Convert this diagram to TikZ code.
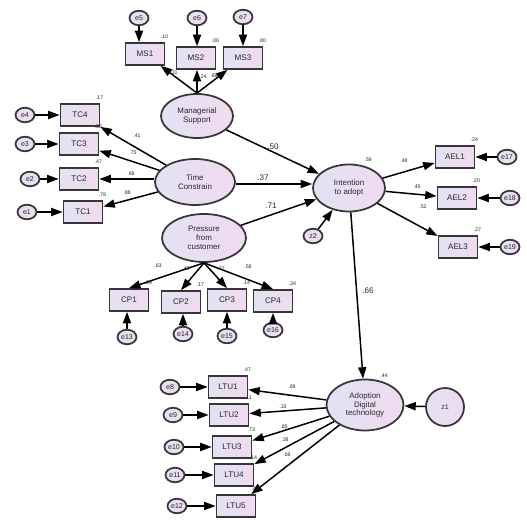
\documentclass[tikz,border=0pt]{standalone}
\usepackage{fontspec}
\setmainfont{Liberation Sans}
\usetikzlibrary{shapes.geometric,arrows.meta}
\definecolor{lavL}{RGB}{226,226,243}
\definecolor{lavR}{RGB}{241,218,240}
\definecolor{rim}{RGB}{55,55,55}
\definecolor{ink}{RGB}{40,40,40}
\begin{document}
\begin{tikzpicture}[x=0.02cm,y=-0.02cm,text=ink]
    \tikzset{obs/.style={rectangle, draw=rim, line width=1pt, left color=lavL, right color=lavR,
                         minimum width=0.78cm, minimum height=0.44cm, inner sep=0pt, font=\fontsize{4.6}{5.5}\selectfont},
             err/.style={ellipse, draw=rim, line width=1pt, left color=lavL, right color=lavR,
                         minimum width=0.38cm, minimum height=0.29cm, inner sep=0pt, font=\fontsize{4}{5}\selectfont},
             lat/.style={ellipse, draw=rim, line width=1pt, left color=lavL, right color=lavR,
                         inner sep=0pt, align=center, font=\fontsize{4.5}{5}\selectfont},
             arr/.style={-{Triangle[length=6.5pt,width=4.6pt]}, line width=0.85pt},
             rsq/.style={anchor=south, inner sep=0.5pt, font=\fontsize{3}{4}\selectfont},
             ld/.style={inner sep=0pt, font=\fontsize{3}{4}\selectfont},
             coef/.style={inner sep=0pt, font=\fontsize{4.6}{5.5}\selectfont}}
    \useasboundingbox (0,0) rectangle (527,520);

    % ---- latent variables ----
    \node[lat, minimum width=1.44cm, minimum height=0.88cm] (mansup) at (197,116) {Managerial\\Support};
    \node[lat, minimum width=1.6cm, minimum height=0.92cm] (timecon) at (195,182) {Time\\Constrain};
    \node[lat, minimum width=1.68cm, minimum height=0.96cm] (press) at (204,238) {Pressure\\from\\customer};
    \node[lat, minimum width=1.44cm, minimum height=0.94cm] (intent) at (349,188) {Intention\\to adopt};
    \node[lat, minimum width=1.54cm, minimum height=1.02cm] (adopt) at (365,405) {Adoption\\Digital\\technology};
    \node[err] (z2) at (313,236) {z2};
    \node[err, circle, minimum size=0.76cm] (z1) at (445,407) {z1};

    % ---- Managerial support ----
    \node[obs] (ms1) at (145,54) {MS1};
    \node[obs] (ms2) at (196,58) {MS2};
    \node[obs] (ms3) at (243,58) {MS3};
    \node[err] (e5) at (139,18) {e5};
    \node[err] (e6) at (197,18) {e6};
    \node[err] (e7) at (243,17) {e7};
    \draw[arr] (e5) -- (e5 |- ms1.north);
    \draw[arr] (e6) -- (e6 |- ms2.north);
    \draw[arr] (e7) -- (e7 |- ms3.north);
    \draw[arr] (mansup.north) -- (ms1);
    \draw[arr] (mansup.north) -- (mansup.north |- ms2.south);
    \draw[arr] (mansup.north) -- (ms3);
    \node[rsq] at ([shift={(-1,-2)}]ms1.north east) {.10};
    \node[rsq] at ([shift={(-1,-2)}]ms2.north east) {.06};
    \node[rsq] at ([shift={(-1,-2)}]ms3.north east) {.80};
    \node[ld] at (174,73) {.31};
    \node[ld] at (203,77) {.24};
    \node[ld] at (214,76) {.89};

    % ---- Time constrain ----
    \node[obs] (tc4) at (80,115) {TC4};
    \node[obs] (tc3) at (79,144) {TC3};
    \node[obs] (tc2) at (79,179) {TC2};
    \node[obs] (tc1) at (83,212) {TC1};
    \node[err] (e4) at (25,115) {e4};
    \node[err] (e3) at (25,144) {e3};
    \node[err] (e2) at (30,179) {e2};
    \node[err] (e1) at (27,212) {e1};
    \foreach \i/\j in {4/4, 3/3, 2/2, 1/1}
        \draw[arr] (e\i) -- (tc\j);
    \draw[arr] (timecon) -- (tc4);
    \draw[arr] (timecon) -- (tc3);
    \draw[arr] (timecon.west |- tc2) -- (tc2);
    \draw[arr] (timecon) -- (tc1);
    \node[rsq] at ([shift={(-1,-2)}]tc4.north east) {.17};
    \node[rsq] at ([shift={(-1,-2)}]tc3.north east) {.56};
    \node[rsq] at ([shift={(-1,-2)}]tc2.north east) {.47};
    \node[rsq] at ([shift={(-1,-2)}]tc1.north east) {.78};
    \node[ld] at (137,136) {.41};
    \node[ld] at (133,153) {.75};
    \node[ld] at (131,174) {.69};
    \node[ld] at (127,193) {.88};

    % ---- Pressure from customer ----
    \node[obs] (cp1) at (129,300) {CP1};
    \node[obs] (cp2) at (181,302) {CP2};
    \node[obs] (cp3) at (227,300) {CP3};
    \node[obs] (cp4) at (273,301) {CP4};
    \node[err] (e13) at (127,337) {e13};
    \node[err] (e14) at (183,334) {e14};
    \node[err] (e15) at (227,336) {e15};
    \node[err] (e16) at (273,330) {e16};
    \draw[arr] (e13) -- (e13 |- cp1.south);
    \draw[arr] (e14) -- (e14 |- cp2.south);
    \draw[arr] (e15) -- (e15 |- cp3.south);
    \draw[arr] (e16) -- (e16 |- cp4.south);
    \draw[arr] (press.south) -- (cp1.north);
    \draw[arr] (press.south) -- (cp2.north);
    \draw[arr] (press.south) -- (cp3.north);
    \draw[arr] (press.south) -- (cp4.north);
    \node[rsq] at ([shift={(-1,-2)}]cp1.north east) {.39};
    \node[rsq] at ([shift={(-1,-2)}]cp2.north east) {.17};
    \node[rsq] at ([shift={(-1,-2)}]cp3.north east) {.14};
    \node[rsq] at ([shift={(-1,-2)}]cp4.north east) {.34};
    \node[ld] at (158,266) {.63};
    \node[ld] at (186,269) {.42};
    \node[ld] at (221,269) {.37};
    \node[ld] at (248,267) {.58};

    % ---- Intention to adopt ----
    \node[obs] (ael1) at (455,157) {AEL1};
    \node[obs] (ael2) at (457,198) {AEL2};
    \node[obs] (ael3) at (458,247) {AEL3};
    \node[err] (e17) at (507,157) {e17};
    \node[err] (e18) at (510,198) {e18};
    \node[err] (e19) at (510,247) {e19};
    \draw[arr] (e17) -- (ael1);
    \draw[arr] (e18) -- (ael2);
    \draw[arr] (e19) -- (ael3);
    \draw[arr] (intent) -- (ael1);
    \draw[arr] (intent) -- (ael2);
    \draw[arr] (intent) -- (ael3);
    \node[rsq] at ([shift={(-1,-2)}]ael1.north east) {.24};
    \node[rsq] at ([shift={(-1,-2)}]ael2.north east) {.20};
    \node[rsq] at ([shift={(-1,-2)}]ael3.north east) {.27};
    \node[ld] at (404,161) {.48};
    \node[ld] at (417,187) {.45};
    \node[ld] at (423,207) {.52};

    % ---- structural paths ----
    \draw[arr] (mansup) -- (intent);
    \draw[arr] (timecon.east |- 0,184) -- (intent.west |- 0,184);
    \draw[arr] (press) -- (intent);
    \draw[arr] (z2) -- (intent);
    \draw[arr] (intent) -- (adopt);
    \draw[arr] (z1) -- (adopt);
    \node[coef] at (273,147) {.50};
    \node[coef] at (263,178) {.37};
    \node[coef] at (271,206) {.71};
    \node[coef] at (368,291) {.66};
    \node[ld] at (368,160) {.59};
    \node[ld] at (384,376) {.44};

    % ---- Adoption digital technology ----
    \node[obs] (ltu1) at (228,387) {LTU1};
    \node[obs] (ltu2) at (229,415) {LTU2};
    \node[obs] (ltu3) at (232,447) {LTU3};
    \node[obs] (ltu4) at (234,475) {LTU4};
    \node[obs] (ltu5) at (236,506) {LTU5};
    \node[err] (e8) at (170,387) {e8};
    \node[err] (e9) at (173,415) {e9};
    \node[err] (e10) at (174,447) {e10};
    \node[err] (e11) at (175,475) {e11};
    \node[err] (e12) at (177,506) {e12};
    \foreach \i/\j in {8/1, 9/2, 10/3, 11/4, 12/5}
        \draw[arr] (e\i) -- (ltu\j);
    \foreach \j in {1,...,5}
        \draw[arr] (adopt) -- (ltu\j);
    \node[rsq] at ([shift={(-1,-2)}]ltu1.north east) {.47};
    \node[rsq] at ([shift={(-1,-2)}]ltu2.north east) {.11};
    \node[rsq] at ([shift={(-1,-2)}]ltu3.north east) {.73};
    \node[rsq] at ([shift={(-1,-2)}]ltu4.north east) {.14};
    \node[rsq] at ([shift={(-1,-2)}]ltu5.north east) {.48};
    \node[ld] at (292,387) {.69};
    \node[ld] at (283,407) {.33};
    \node[ld] at (284,427) {.85};
    \node[ld] at (285,440) {.38};
    \node[ld] at (287,455) {.69};
\end{tikzpicture}
\end{document}
